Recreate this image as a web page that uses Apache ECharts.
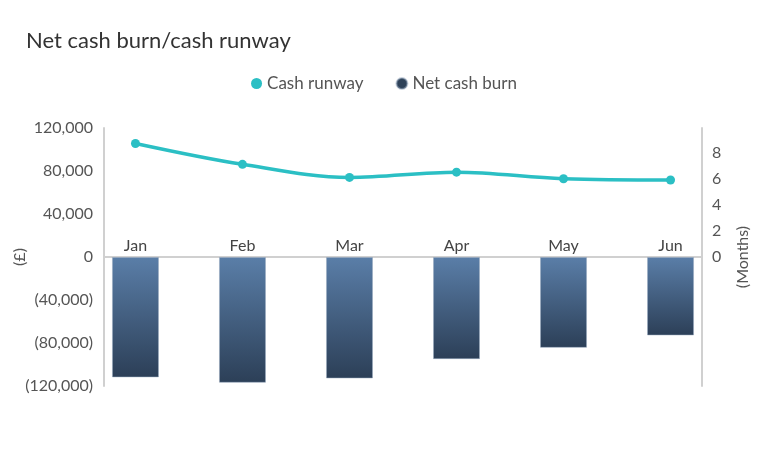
<!DOCTYPE html>
<html>
<head>
<meta charset="utf-8">
<script src="https://cdn.jsdelivr.net/npm/echarts@6/dist/echarts.min.js"></script>
<style>
html,body{margin:0;padding:0;background:#fff;}
#chart{width:768px;height:464px;}
</style>
</head>
<body>
<div id="chart"></div>
<script>
const months = ['Jan', 'Feb', 'Mar', 'Apr', 'May', 'Jun'];
const netCashBurn = [-112000, -117000, -113000, -95000, -84500, -73000];
const cashRunway = [8.7, 7.1, 6.1, 6.5, 6.0, 5.9];
const monthTicks = [0, 1, 2, 3, 4, 5];
const runwayTicks = [0, 2, 4, 6, 8];

const FONT = 'Lato, "Open Sans", sans-serif';
const chart = echarts.init(document.getElementById('chart'), null, {renderer: 'canvas'});

function fmtMoney(v) {
  const s = Math.abs(v).toLocaleString('en-US');
  return v < 0 ? '(' + s + ')' : s;
}

const GRID_TOP = 128, GRID_H = 258;

chart.setOption({
  backgroundColor: '#ffffff',
  animation: false,
  title: {
    text: 'Net cash burn/cash runway',
    left: 21, top: 25,
    textStyle: {fontFamily: FONT, fontSize: 22, fontWeight: 'normal', color: '#333333'}
  },
  legend: {
    top: 70, left: 'center',
    icon: 'circle', itemWidth: 11, itemHeight: 11, itemGap: 32,
    textStyle: {fontFamily: FONT, fontSize: 17, color: '#555555'},
    data: [
      {name: 'Cash runway', itemStyle: {color: '#2bbfc4'}},
      {name: 'Net cash burn', itemStyle: {color: '#2e4259'}}
    ]
  },
  grid: {left: 104, right: 66, top: GRID_TOP, height: GRID_H, containLabel: false, outerBoundsMode: 'none'},
  xAxis: {
    type: 'value',
    min: -0.294, max: 5.294,
    position: 'bottom',
    offset: -GRID_H / 2,
    axisLine: {show: true, onZero: false, lineStyle: {color: '#d0d0d0', width: 2}},
    axisTick: {show: false},
    splitLine: {show: false},
    axisLabel: {
      inside: true, margin: 3,
      customValues: monthTicks,
      formatter: v => months[Math.round(v)] || '',
      fontFamily: FONT, fontSize: 16, color: '#444444'
    }
  },
  yAxis: [
    {
      type: 'value', position: 'left',
      min: -120000, max: 120000, interval: 40000,
      name: '(£)', nameLocation: 'middle', nameGap: 76, nameMoveOverlap: false,
      nameTextStyle: {fontFamily: FONT, fontSize: 16, color: '#555555'},
      axisLine: {show: true, onZero: false, lineStyle: {color: '#d0d0d0', width: 2}},
      axisTick: {show: false},
      splitLine: {show: false},
      axisLabel: {margin: 11, formatter: fmtMoney, fontFamily: FONT, fontSize: 16, color: '#555555'}
    },
    {
      type: 'value', position: 'right',
      min: -9.885, max: 9.885,
      name: '(Months)', nameLocation: 'middle', nameGap: 33,
      nameTextStyle: {fontFamily: FONT, fontSize: 16, color: '#555555'},
      axisLine: {show: true, onZero: false, lineStyle: {color: '#d0d0d0', width: 2}},
      axisTick: {show: false},
      splitLine: {show: false},
      axisLabel: {margin: 10, customValues: runwayTicks, fontFamily: FONT, fontSize: 16, color: '#555555'}
    }
  ],
  series: [
    {
      name: 'Net cash burn',
      type: 'bar',
      yAxisIndex: 0,
      barWidth: 47,
      data: netCashBurn.map((v, i) => [monthTicks[i], v]),
      itemStyle: {
        borderColor: 'rgba(150,168,190,0.5)', borderWidth: 1,
        color: new echarts.graphic.LinearGradient(0, 0, 0, 1, [
          {offset: 0, color: '#5a7ea8'},
          {offset: 1, color: '#2c3f57'}
        ])
      },
      z: 2
    },
    {
      name: 'Cash runway',
      type: 'line',
      yAxisIndex: 1,
      smooth: 0.35,
      symbol: 'circle', symbolSize: 9,
      data: cashRunway.map((v, i) => [monthTicks[i], v]),
      lineStyle: {color: '#2bbfc4', width: 3.5},
      itemStyle: {color: '#2bbfc4'},
      z: 3
    }
  ]
});
</script>
</body>
</html>
